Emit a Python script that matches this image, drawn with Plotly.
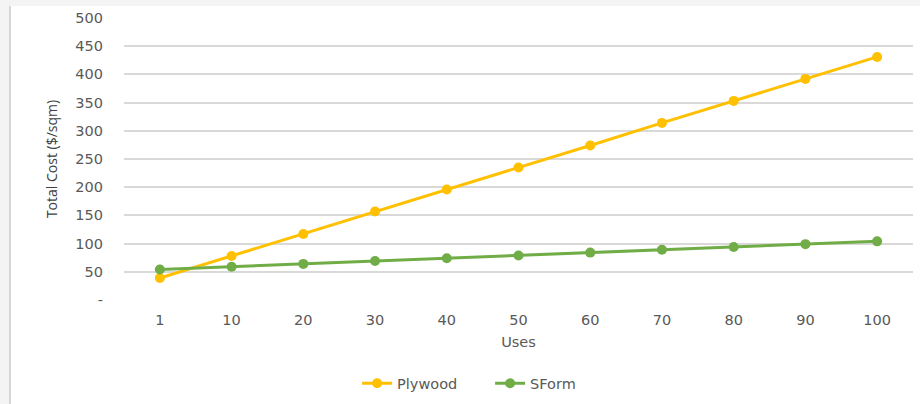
import plotly.graph_objects as go

# Number of uses of the formwork
uses = ["1", "10", "20", "30", "40", "50", "60", "70", "80", "90", "100"]
# Total cost per square metre for each formwork system
plywood = [39, 78, 117, 157, 196, 235, 274, 314, 353, 392, 431]
sform = [54, 59, 64, 69, 74, 79, 84, 89, 94, 99, 104]

y_ticks = [0, 50, 100, 150, 200, 250, 300, 350, 400, 450, 500]
y_labels = ["-", "50", "100", "150", "200", "250", "300", "350", "400", "450", "500"]

fig = go.Figure()
fig.add_trace(go.Scatter(
    x=uses, y=plywood, name="Plywood", mode="lines+markers",
    line=dict(color="#FFC000", width=3),
    marker=dict(color="#FFC000", size=10),
))
fig.add_trace(go.Scatter(
    x=uses, y=sform, name="SForm", mode="lines+markers",
    line=dict(color="#70AD47", width=3),
    marker=dict(color="#70AD47", size=10),
))

tick_font = dict(family="DejaVu Sans, Open Sans, sans-serif", size=14.5, color="#595959")

fig.update_layout(
    width=920, height=404,
    margin=dict(l=124, r=7, t=18, b=104, autoexpand=False),
    paper_bgcolor="white",
    plot_bgcolor="white",
    showlegend=True,
    legend=dict(
        orientation="h", x=0.464, xanchor="center", y=-0.239, yanchor="top",
        font=tick_font, entrywidth=88, entrywidthmode="pixels",
        bgcolor="rgba(0,0,0,0)",
    ),
    xaxis=dict(
        type="category", range=[-0.5, 10.5], showgrid=False, zeroline=False,
        showline=False, tickfont=tick_font, ticks="", ticklabelstandoff=9,
        automargin=False,
        title=dict(text="Uses", font=dict(family="DejaVu Sans, Open Sans, sans-serif", size=14.5, color="#595959"), standoff=10),
    ),
    yaxis=dict(
        range=[0, 500], tickvals=y_ticks, ticktext=y_labels,
        showgrid=True, gridcolor="#D9D9D9", gridwidth=1.5, zeroline=False,
        showline=False, tickfont=tick_font, ticks="", ticklabelstandoff=20,
        automargin=False,
        title=dict(text="Total Cost ($/sqm)", font=dict(family="Liberation Sans Narrow, Open Sans, sans-serif", size=14, color="#404040"), standoff=14),
    ),
    shapes=[
        dict(type="rect", xref="paper", yref="paper", x0=-124/789, x1=1 + 7/789, y0=1 + 12/282, y1=1 + 18/282,
             fillcolor="#F4F4F4", line=dict(width=0), layer="below"),
        dict(type="rect", xref="paper", yref="paper", x0=-124/789, x1=-114/789, y0=-104/282, y1=1 + 12/282,
             fillcolor="#F4F4F4", line=dict(width=0), layer="below"),
        dict(type="line", xref="paper", yref="paper", x0=-114/789, x1=-114/789, y0=-104/282, y1=1 + 12/282,
             line=dict(color="#D6D6D6", width=2), layer="below"),
    ],
)

fig.write_html("out.html")
